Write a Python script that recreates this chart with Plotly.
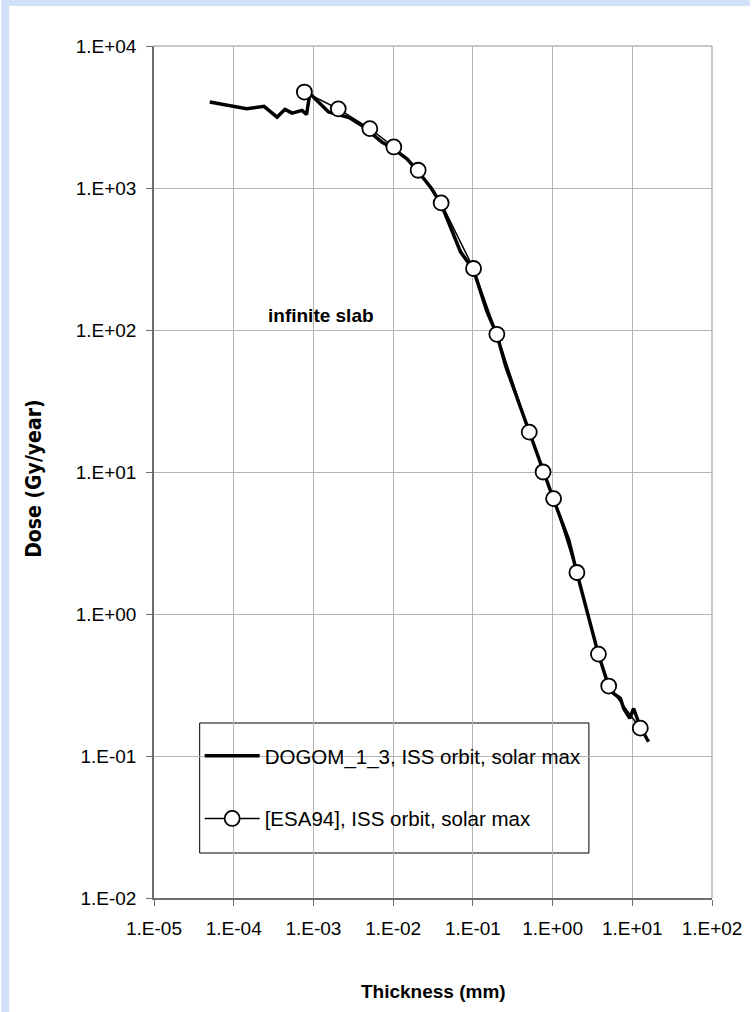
import plotly.graph_objects as go

# ---- data ----
dogom_x = [5.0e-5, 1.0e-4, 1.45e-4, 2.4e-4, 3.5e-4, 4.4e-4, 5.4e-4, 7.2e-4, 8.2e-4, 9.0e-4,
           1.55e-3, 2.8e-3, 4.0e-3, 7.2e-3, 1.0e-2, 1.5e-2, 2.0e-2, 3.0e-2, 4.0e-2, 7.0e-2,
           0.102, 0.15, 0.2, 0.26, 0.51, 0.76, 1.03, 1.6, 2.02, 3.76, 5.1, 5.8, 7.1, 7.8,
           9.3, 10.4, 11.3, 12.6, 16.0]
dogom_y = [4030, 3730, 3620, 3760, 3160, 3580, 3370, 3520, 3290, 4620,
           3430, 3130, 2770, 2110, 1900, 1600, 1330, 1000, 770, 355,
           265, 135, 93, 55, 19, 10, 6.4, 3.3, 1.95, 0.52, 0.305, 0.276, 0.255, 0.216,
           0.184, 0.216, 0.187, 0.16, 0.126]

esa_x = [7.7e-4, 2.05e-3, 5.1e-3, 1.02e-2, 2.06e-2, 4.0e-2, 0.102, 0.2, 0.51, 0.76,
         1.03, 2.02, 3.76, 5.06, 12.6]
esa_y = [4740, 3610, 2620, 1945, 1333, 785, 271, 93.3, 19.1, 10.0,
         6.5, 1.96, 0.522, 0.311, 0.157]

x_tickvals = [1e-5, 1e-4, 1e-3, 1e-2, 1e-1, 1e0, 1e1, 1e2]
x_ticktext = ["1.E-05", "1.E-04", "1.E-03", "1.E-02", "1.E-01", "1.E+00", "1.E+01", "1.E+02"]
y_tickvals = [1e-2, 1e-1, 1e0, 1e1, 1e2, 1e3, 1e4]
y_ticktext = ["1.E-02", "1.E-01", "1.E+00", "1.E+01", "1.E+02", "1.E+03", "1.E+04"]

series_names = ["DOGOM_1_3, ISS orbit, solar max", "[ESA94], ISS orbit, solar max"]

FONT = "Liberation Sans, Arial, sans-serif"
NARROW = "Liberation Sans Narrow, DejaVu Sans Condensed, Liberation Sans, sans-serif"
W, H = 754, 1012
L, R, T, B = 154, 38, 46, 114

fig = go.Figure()
fig.add_trace(go.Scatter(
    x=dogom_x, y=dogom_y, mode="lines", name=series_names[0],
    line=dict(color="black", width=3.5), legendgroup="a"))
fig.add_trace(go.Scatter(
    x=esa_x, y=esa_y, mode="lines+markers", name=series_names[1],
    line=dict(color="black", width=1.5),
    marker=dict(symbol="circle", size=15, color="white",
                line=dict(color="black", width=1.8)),
    legendgroup="b"))

axis_common = dict(
    type="log", showgrid=True, gridcolor="#b4b4b4", gridwidth=1,
    showline=True, linecolor="#6e6e6e", linewidth=1.5,
    ticks="outside", ticklen=6, tickcolor="#6e6e6e", tickwidth=1,
    tickfont=dict(family=FONT, size=19, color="black"),
    zeroline=False,
)
fig.update_xaxes(range=[-5, 2], tickvals=x_tickvals, ticktext=x_ticktext,
                 ticklabelstandoff=6, **axis_common)
fig.update_yaxes(range=[-2, 4], tickvals=y_tickvals, ticktext=y_ticktext,
                 ticklabelstandoff=6, **axis_common)

pw = W - L - R
ph = H - T - B

def px_x(p):
    return (p - L) / pw

def px_y(p):
    return (H - B - p) / ph

fig.update_layout(
    width=W, height=H, autosize=False,
    margin=dict(l=L, r=R, t=T, b=B, pad=0),
    paper_bgcolor="white", plot_bgcolor="white",
    showlegend=True,
    legend=dict(
        x=px_x(200), y=px_y(736), xanchor="left", yanchor="top",
        bgcolor="rgba(0,0,0,0)", borderwidth=0,
        font=dict(family=FONT, size=20.5, color="black"),
        traceorder="grouped", tracegroupgap=33, itemwidth=55,
        indentation=0,
    ),
    shapes=[
        # blue outer strips (top and left)
        dict(type="rect", xref="paper", yref="paper", x0=px_x(0), x1=px_x(W), y0=px_y(6), y1=px_y(0),
             fillcolor="#d3e0fa", line=dict(width=0), layer="below"),
        dict(type="rect", xref="paper", yref="paper", x0=px_x(0), x1=px_x(8), y0=px_y(H), y1=px_y(0),
             fillcolor="#d3e0fa", line=dict(width=0), layer="below"),
        # plot frame top/right
        dict(type="line", xref="paper", yref="paper", x0=0, x1=1, y0=1, y1=1,
             line=dict(color="#b4b4b4", width=1.5)),
        dict(type="line", xref="paper", yref="paper", x0=1, x1=1, y0=0, y1=1,
             line=dict(color="#b4b4b4", width=1.5)),
        # legend box
        dict(type="rect", xref="paper", yref="paper", x0=px_x(200), x1=px_x(592),
             y0=px_y(853), y1=px_y(723), fillcolor="white",
             line=dict(color="black", width=1), layer="between"),
    ],
    annotations=[
        dict(text="<b>infinite slab</b>", x=-3.6, y=2.1, xref="x", yref="y",
             xanchor="left", yanchor="middle", showarrow=False,
             font=dict(family=FONT, size=19, color="black")),
        dict(text="<b>Thickness (mm)</b>", x=0.5, y=px_y(992), xref="paper", yref="paper",
             xanchor="center", yanchor="middle", showarrow=False,
             font=dict(family=FONT, size=19, color="black")),
        dict(text="<b>Dose (Gy/year)</b>", x=px_x(33), y=px_y(478), xref="paper", yref="paper",
             xanchor="center", yanchor="middle", showarrow=False, textangle=-90,
             font=dict(family=NARROW, size=21, color="black")),
    ],
)

fig.write_html("out.html")
